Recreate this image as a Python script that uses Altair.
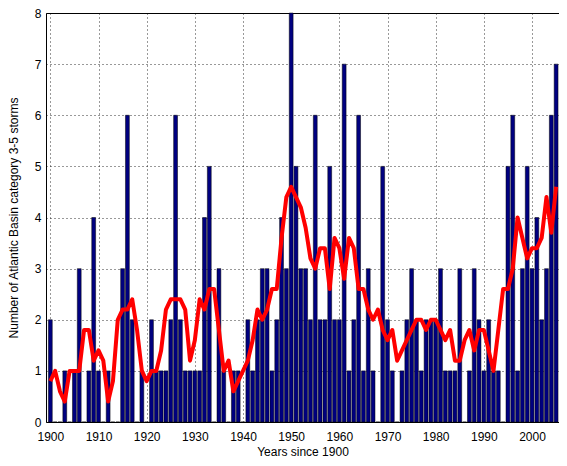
import altair as alt
import pandas as pd

years = list(range(1900, 2006))

storms = [
    2, 0, 0, 1, 0, 1, 3, 0, 1, 4,   # 1900s
    1, 0, 1, 0, 0, 3, 6, 2, 0, 1,   # 1910s
    0, 2, 1, 1, 1, 2, 6, 2, 1, 1,   # 1920s
    1, 1, 4, 5, 0, 3, 1, 0, 1, 1,   # 1930s
    0, 2, 1, 2, 3, 3, 1, 2, 4, 3,   # 1940s
    8, 5, 3, 3, 2, 6, 2, 2, 5, 2,   # 1950s
    2, 7, 1, 2, 6, 1, 3, 1, 0, 5,   # 1960s
    2, 1, 0, 1, 2, 3, 2, 1, 2, 2,   # 1970s
    2, 3, 1, 1, 1, 3, 0, 1, 3, 2,   # 1980s
    1, 2, 1, 1, 0, 5, 6, 1, 3, 5,   # 1990s
    3, 4, 2, 3, 6, 7,               # 2000s
]

smoothed = [
    0.8, 1.0, 0.6, 0.4, 1.0, 1.0, 1.0, 1.8, 1.8, 1.2,
    1.4, 1.2, 0.4, 0.8, 2.0, 2.2, 2.2, 2.4, 1.8, 1.0,
    0.8, 1.0, 1.0, 1.4, 2.2, 2.4, 2.4, 2.4, 2.2, 1.2,
    1.6, 2.4, 2.2, 2.6, 2.6, 1.8, 1.0, 1.2, 0.6, 0.8,
    1.0, 1.2, 1.6, 2.2, 2.0, 2.2, 2.6, 2.6, 3.6, 4.4,
    4.6, 4.4, 4.2, 3.8, 3.2, 3.0, 3.4, 3.4, 2.6, 3.6,
    3.4, 2.8, 3.6, 3.4, 2.6, 2.6, 2.2, 2.0, 2.2, 1.8,
    1.6, 1.8, 1.2, 1.4, 1.6, 1.8, 2.0, 2.0, 1.8, 2.0,
    2.0, 1.8, 1.6, 1.8, 1.2, 1.2, 1.6, 1.8, 1.4, 1.8,
    1.8, 1.4, 1.0, 1.8, 2.6, 2.6, 3.0, 4.0, 3.6, 3.2,
    3.4, 3.4, 3.6, 4.4, 3.7, 4.6,
]

x_ticks = list(range(1900, 2001, 10))
y_ticks = list(range(0, 9))

df = pd.DataFrame({"year": years, "storms": storms, "smooth": smoothed})

FONT = "Liberation Sans"
xscale = alt.Scale(domain=[1899.1, 2005.6], nice=False, zero=False)
yscale = alt.Scale(domain=[0, 8], nice=False)

base = alt.Chart(df)

bars = base.transform_calculate(
    x0="datum.year - 0.4", x1="datum.year + 0.4"
).mark_bar(
    color="#000080", stroke="#000000", strokeWidth=0.5
).encode(
    x=alt.X("x0:Q", scale=xscale,
            axis=alt.Axis(values=x_ticks, format="d", title="Years since 1900",
                          grid=True, ticks=False, labelPadding=9, titlePadding=4)),
    x2="x1:Q",
    y=alt.Y("storms:Q", scale=yscale,
            axis=alt.Axis(values=y_ticks, format="d",
                          title="Number of Atlantic Basin category 3-5 storms",
                          grid=True, ticks=False, labelPadding=5, titlePadding=14)),
    y2=alt.datum(0),
)

line = base.mark_line(color="#ff0000", strokeWidth=4, strokeJoin="round").encode(
    x=alt.X("year:Q", scale=xscale),
    y=alt.Y("smooth:Q", scale=yscale),
)

chart = alt.layer(bars, line).properties(
    width=513, height=409,
    autosize=alt.AutoSizeParams(type="none"),
    padding={"left": 38, "top": 5, "right": 0, "bottom": 36},
).configure_view(
    stroke="#000000", strokeWidth=1
).configure_axis(
    labelFont=FONT, titleFont=FONT, labelFontSize=12, titleFontSize=12,
    labelColor="#000000", titleColor="#000000", titleFontWeight="normal",
    domain=False, gridColor="#000000", gridDash=[1, 3], gridOpacity=0.8, gridWidth=1,
)

chart.save("out.html", embed_options={"renderer": "svg", "actions": False})
